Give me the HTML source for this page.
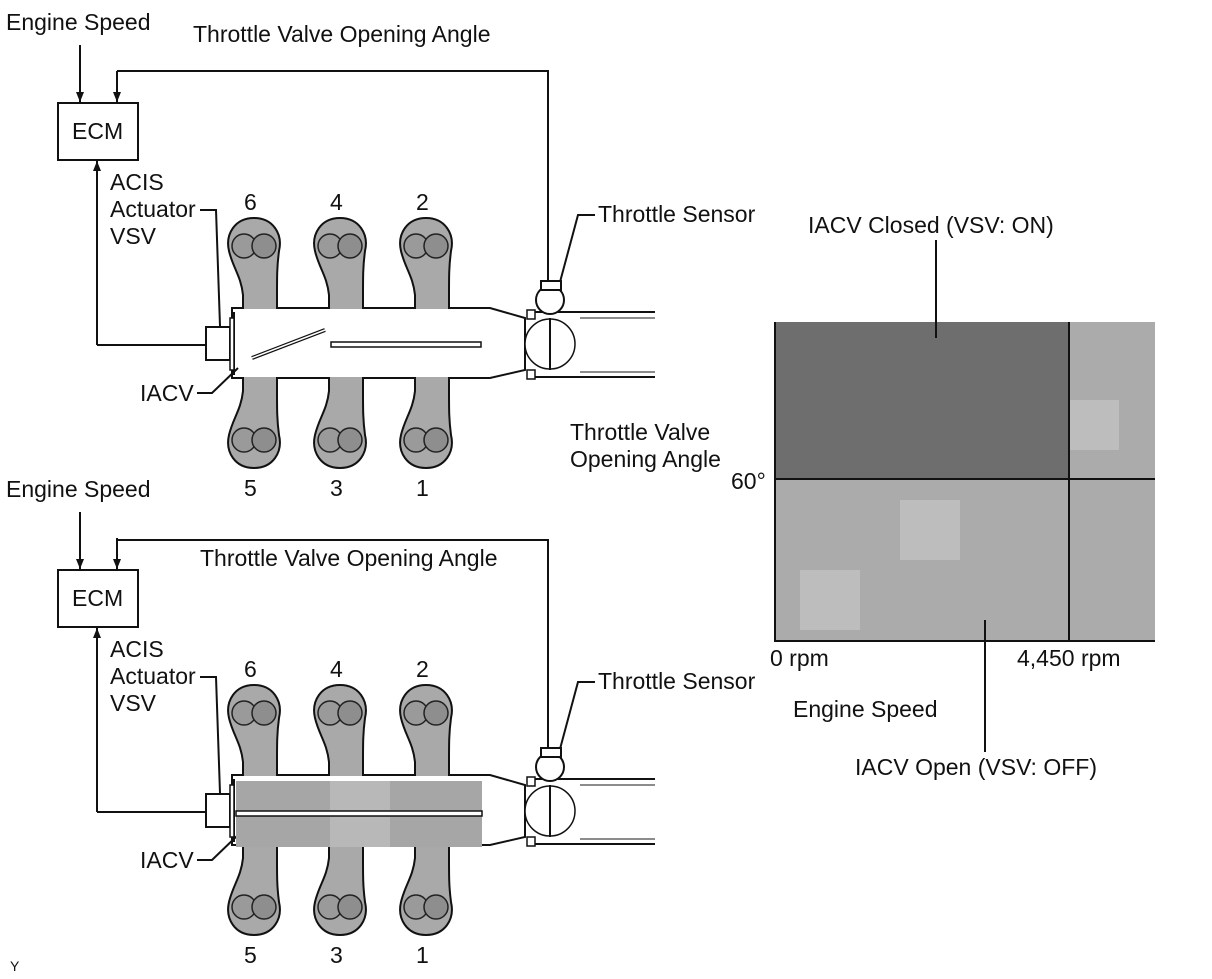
<!DOCTYPE html>
<html><head><meta charset="utf-8"><style>
html,body{margin:0;padding:0;background:#fff}
svg text{font-family:"Liberation Sans",Arial,sans-serif;font-size:23px;fill:#111}
</style></head><body>
<svg width="1212" height="974" viewBox="0 0 1212 974" xmlns="http://www.w3.org/2000/svg">
<defs>
<marker id="ar" markerWidth="12" markerHeight="12" refX="10" refY="5" orient="auto" markerUnits="userSpaceOnUse"><path d="M0,1 L10,5 L0,9 Z" fill="#111"/></marker>
<g id="runnerT">
 <path d="M14,103 L14,89 C12,70 4,62 0,45 C-4,28 6,12 25,12 C44,12 54,28 50,45 C48,60 48,70 48,89 L48,103" fill="#a9a9a9" stroke="#111" stroke-width="2"/>
 <circle cx="15" cy="40" r="12" fill="#9a9a9a" stroke="#222" stroke-width="1.5"/>
 <circle cx="35" cy="40" r="12" fill="#8e8e8e" stroke="#222" stroke-width="1.5"/>
</g>
<g id="man">
 <path d="M232,308 L490,308 L525,318 L525,370 L490,378 L232,378 Z" fill="#fff" stroke="#111" stroke-width="2"/>
 <use href="#runnerT" x="229" y="206"/>
 <use href="#runnerT" x="315" y="206"/>
 <use href="#runnerT" x="401" y="206"/>
 <g transform="translate(0,686) scale(1,-1)">
  <use href="#runnerT" x="229" y="206"/>
  <use href="#runnerT" x="315" y="206"/>
  <use href="#runnerT" x="401" y="206"/>
 </g>
 <line x1="234" y1="312" x2="234" y2="375" stroke="#111" stroke-width="2"/>
 <rect x="527" y="310" width="8" height="9" fill="#fff" stroke="#111" stroke-width="1.5"/>
 <rect x="527" y="370" width="8" height="9" fill="#fff" stroke="#111" stroke-width="1.5"/>
 <line x1="535" y1="312" x2="655" y2="312" stroke="#111" stroke-width="2"/>
 <line x1="535" y1="377" x2="655" y2="377" stroke="#111" stroke-width="2"/>
 <line x1="580" y1="318" x2="655" y2="318" stroke="#666" stroke-width="1.5"/>
 <line x1="580" y1="372" x2="655" y2="372" stroke="#666" stroke-width="1.5"/>
 <circle cx="550" cy="344" r="25" fill="#fff" stroke="#111" stroke-width="1.5"/>
 <line x1="550" y1="318" x2="550" y2="370" stroke="#111" stroke-width="2"/>
 <circle cx="550" cy="300" r="14" fill="#fff" stroke="#111" stroke-width="2"/>
 <rect x="541" y="281" width="20" height="9" fill="#fff" stroke="#111" stroke-width="2"/>
 <rect x="206" y="327" width="24" height="33" fill="#fff" stroke="#111" stroke-width="2"/>
 <rect x="230" y="318" width="4" height="52" fill="#fff" stroke="#111" stroke-width="1.5"/>
 <line x1="97" y1="345" x2="206" y2="345" stroke="#111" stroke-width="2"/>
 <line x1="97" y1="345" x2="97" y2="161" stroke="#111" stroke-width="2" marker-end="url(#ar)"/>
 <rect x="58" y="103" width="80" height="57" fill="#fff" stroke="#111" stroke-width="2"/>
 <text x="72" y="139">ECM</text>
 <line x1="80" y1="45" x2="80" y2="102" stroke="#111" stroke-width="2" marker-end="url(#ar)"/>
 <line x1="117" y1="71" x2="117" y2="102" stroke="#111" stroke-width="2" marker-end="url(#ar)"/>
 <text x="110" y="190">ACIS</text><text x="110" y="217">Actuator</text><text x="110" y="244">VSV</text>
 <polyline points="200,210 216,210 220,326" fill="none" stroke="#111" stroke-width="2"/>
 <text x="140" y="401">IACV</text>
 <polyline points="197,393 212,393 238,368" fill="none" stroke="#111" stroke-width="2"/>
 <text x="244" y="210">6</text><text x="330" y="210">4</text><text x="416" y="210">2</text>
 <text x="244" y="496">5</text><text x="330" y="496">3</text><text x="416" y="496">1</text>
 <text x="6" y="30">Engine Speed</text>
 <text x="598" y="222">Throttle Sensor</text>
 <polyline points="595,215 578,215 560,282" fill="none" stroke="#111" stroke-width="2"/>
</g>
</defs>

<use href="#man"/>
<line x1="252" y1="358" x2="325" y2="330" stroke="#111" stroke-width="4"/>
<line x1="252" y1="358" x2="325" y2="330" stroke="#fff" stroke-width="1.5"/>
<rect x="331" y="342" width="150" height="5" fill="#fff" stroke="#111" stroke-width="1.5"/>
<polyline points="117,71 548,71 548,282" fill="none" stroke="#111" stroke-width="2"/>
<text x="193" y="42">Throttle Valve Opening Angle</text>

<g transform="translate(0,467)">
 <use href="#man"/>
</g>
<rect x="236" y="781" width="246" height="66" fill="#a6a6a6"/>
<rect x="330" y="781" width="60" height="66" fill="#b8b8b8"/>
<rect x="236" y="811" width="246" height="5" fill="#fff" stroke="#111" stroke-width="1.5"/>
<polyline points="117,540 548,540 548,749" fill="none" stroke="#111" stroke-width="2"/>
<text x="200" y="566">Throttle Valve Opening Angle</text>

<rect x="774" y="322" width="381" height="319" fill="#ababab"/>
<rect x="774" y="322" width="295" height="157" fill="#6e6e6e"/>
<rect x="900" y="500" width="60" height="60" fill="#bdbdbd"/>
<rect x="1069" y="400" width="50" height="50" fill="#bdbdbd"/>
<rect x="800" y="570" width="60" height="60" fill="#bdbdbd"/>
<line x1="775" y1="322" x2="775" y2="641" stroke="#111" stroke-width="2"/>
<line x1="774" y1="641" x2="1155" y2="641" stroke="#111" stroke-width="2"/>
<line x1="774" y1="479" x2="1155" y2="479" stroke="#111" stroke-width="2"/>
<line x1="1069" y1="322" x2="1069" y2="641" stroke="#111" stroke-width="2"/>
<line x1="936" y1="240" x2="936" y2="338" stroke="#111" stroke-width="2"/>
<line x1="985" y1="620" x2="985" y2="752" stroke="#111" stroke-width="2"/>
<text x="808" y="233">IACV Closed (VSV: ON)</text>
<text x="570" y="440">Throttle Valve</text>
<text x="570" y="467">Opening Angle</text>
<text x="731" y="489">60°</text>
<text x="770" y="666">0 rpm</text>
<text x="1017" y="666">4,450 rpm</text>
<text x="793" y="717">Engine Speed</text>
<text x="855" y="775">IACV Open (VSV: OFF)</text>
<text x="10" y="971" style="font-size:14px">Y</text>
</svg>
</body></html>
